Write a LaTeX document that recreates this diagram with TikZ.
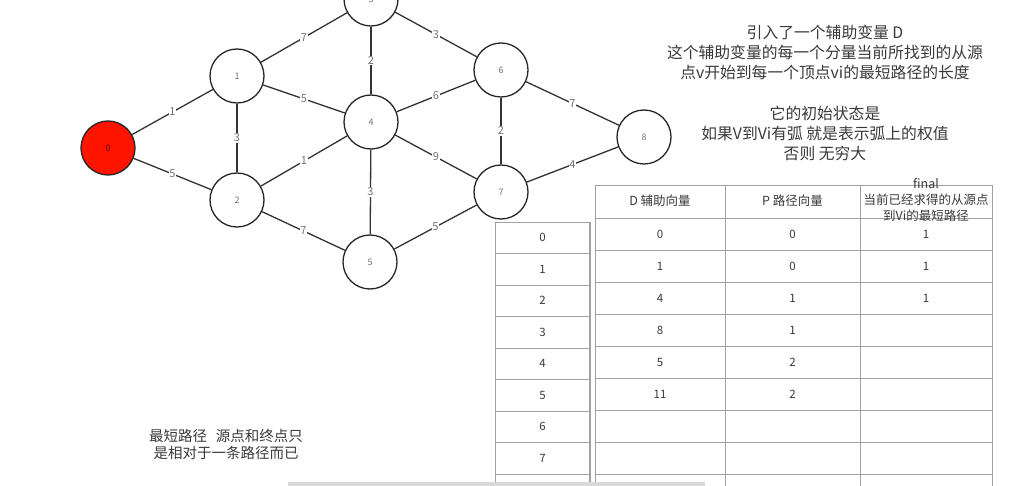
\documentclass[tikz,border=0pt]{standalone}
\usepackage{fontspec}
\setmainfont{Noto Sans CJK SC}
\definecolor{txt}{HTML}{3A3A3A}
\definecolor{nodered}{HTML}{FF1400}
\definecolor{grid}{HTML}{A0A0A0}
\begin{document}
\begin{tikzpicture}[x=1pt,y=-1pt,
  vert/.style={circle, draw=black!85, line width=1.3pt, minimum size=54pt, inner sep=0pt,
    font=\fontsize{9}{9}\selectfont, text=black!55, fill=white},
  edge/.style={draw=black!80, line width=1.3pt},
  wlab/.style={fill=white, inner sep=0.8pt, font=\fontsize{11}{11}\selectfont, text=black!55},
  gridline/.style={draw=grid, line width=0.7pt},
  cell/.style={font=\fontsize{11.5}{11.5}\selectfont, text=txt, inner sep=0pt},
  hcell/.style={font=\fontsize{12.5}{16}\selectfont, text=txt, inner sep=0pt, align=center},
  note/.style={align=center, text=txt, inner sep=0pt}]
\useasboundingbox (0,0) rectangle (1030,486);
\clip (0,0) rectangle (1030,486);
\fill[white] (0,0) rectangle (1030,486);

% graph
\node[vert, fill=nodered, text=red!40!black] (n0) at (108,148) {0};
\node[vert] (n1) at (237,76) {1};
\node[vert] (n2) at (237,200) {2};
\node[vert] (n3) at (371,-1) {3};
\node[vert] (n4) at (371,122) {4};
\node[vert] (n5) at (370,262) {5};
\node[vert] (n6) at (501,70) {6};
\node[vert] (n7) at (501,192) {7};
\node[vert] (n8) at (644,137) {8};

\draw[edge] (n0) -- node[wlab]{1} (n1);
\draw[edge] (n0) -- node[wlab]{5} (n2);
\draw[edge] (n1) -- node[wlab]{3} (n2);
\draw[edge] (n1) -- node[wlab]{7} (n3);
\draw[edge] (n1) -- node[wlab]{5} (n4);
\draw[edge] (n2) -- node[wlab]{1} (n4);
\draw[edge] (n2) -- node[wlab]{7} (n5);
\draw[edge] (n3) -- node[wlab]{2} (n4);
\draw[edge] (n3) -- node[wlab]{3} (n6);
\draw[edge] (n4) -- node[wlab]{6} (n6);
\draw[edge] (n4) -- node[wlab]{9} (n7);
\draw[edge] (n4) -- node[wlab]{3} (n5);
\draw[edge] (n5) -- node[wlab]{5} (n7);
\draw[edge] (n6) -- node[wlab]{2} (n7);
\draw[edge] (n6) -- node[wlab]{7} (n8);
\draw[edge] (n7) -- node[wlab]{4} (n8);

% notes
\node[note, font=\fontsize{15.8}{20}\selectfont] (noteD) at (825,52)
  {引入了一个辅助变量 D\\这个辅助变量的每一个分量当前所找到的从源\\点v开始到每一个顶点vi的最短路径的长度};
\node[note, font=\fontsize{15.8}{20}\selectfont] (noteInit) at (825,133)
  {它的初始状态是\\如果V到Vi有弧 就是表示弧上的权值\\否则 无穷大};
\node[note, font=\fontsize{14.5}{17}\selectfont] (noteShort) at (226,444)
  {最短路径\hspace{0.6em}源点和终点只\\是相对于一条路径而已};

% left table
\foreach \y in {222,253.5,285,316.5,348,379.5,411,442.5,474}
  \draw[gridline] (495,\y) -- (590,\y);
\draw[gridline] (495,222) -- (495,490);
\draw[gridline, line width=1.4pt] (590,222) -- (590,490);
\foreach \i/\y in {0/237.75,1/269.25,2/300.75,3/332.25,4/363.75,5/395.25,6/426.75,7/458.25}
  \node[cell] (L\i) at (542.5,\y) {\i};

% right table
\foreach \y in {185,218,250,282,314,346,378,410,442,474}
  \draw[gridline] (595,\y) -- (992,\y);
\foreach \x in {595,725,860,992}
  \draw[gridline] (\x,185) -- (\x,490);
\node[hcell] (hD) at (660,201) {D 辅助向量};
\node[hcell] (hP) at (792.5,201) {P 路径向量};
\node[hcell] (hF) at (926,200) {final\\当前已经求得的从源点\\到Vi的最短路径};

\node[cell] (d0) at (660,234) {0};
\node[cell] (d1) at (660,266) {1};
\node[cell] (d2) at (660,298) {4};
\node[cell] (d3) at (660,330) {8};
\node[cell] (d4) at (660,362) {5};
\node[cell] (d5) at (660,394) {11};
\node[cell] (p0) at (792.5,234) {0};
\node[cell] (p1) at (792.5,266) {0};
\node[cell] (p2) at (792.5,298) {1};
\node[cell] (p3) at (792.5,330) {1};
\node[cell] (p4) at (792.5,362) {2};
\node[cell] (p5) at (792.5,394) {2};
\node[cell] (f0) at (926,234) {1};
\node[cell] (f1) at (926,266) {1};
\node[cell] (f2) at (926,298) {1};

% scrollbar
\fill[gray!30] (288,482) rectangle (705,486);
\end{tikzpicture}
\end{document}
